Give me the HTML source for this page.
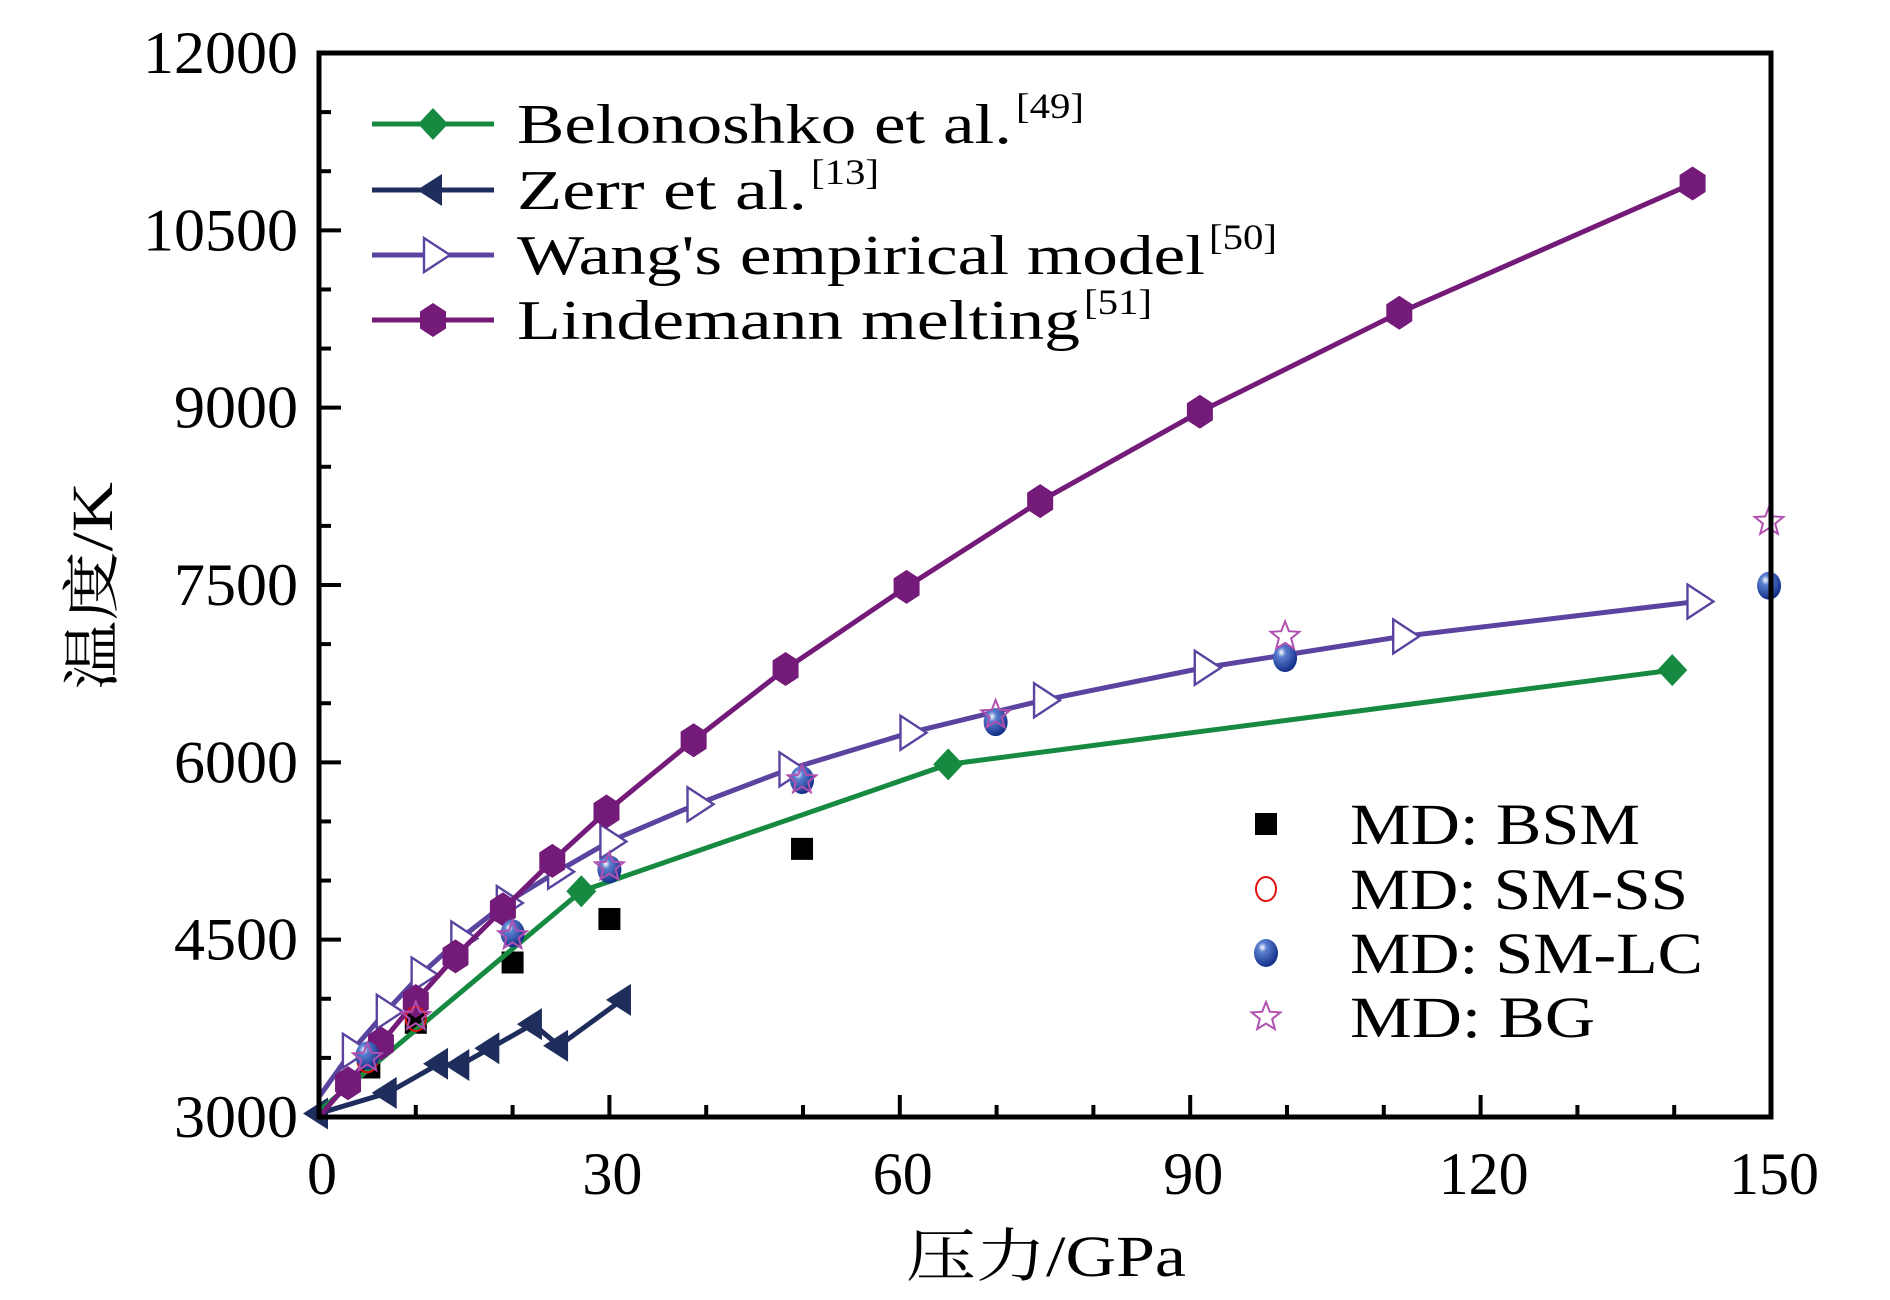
<!DOCTYPE html>
<html><head><meta charset="utf-8">
<style>
html,body{margin:0;padding:0;background:#fff;}
svg{display:block;}
text{font-family:"Liberation Serif","Noto Serif CJK SC",serif;fill:#000;}
</style></head>
<body>
<svg id="chart" width="1890" height="1300" viewBox="0 0 1890 1300" xmlns="http://www.w3.org/2000/svg">
<g id="marks"></g>
<g id="axes"></g>
<g id="legend"></g>
</svg>
<script>
const xTicks = [0, 30, 60, 90, 120, 150];
const yTicks = [3000, 4500, 6000, 7500, 9000, 10500, 12000];
const lindX = [0, 3.0, 6.4, 10.0, 14.1, 19.0, 24.1, 29.7, 38.7, 48.2, 60.7, 74.5, 91.0, 111.6, 141.9];
const lindY = [3000, 3286, 3623, 3981, 4359, 4757, 5166, 5584, 6187, 6790, 7484, 8209, 8965, 9803, 10896];
const wangX = [0, 3.4, 6.9, 10.5, 14.6, 19.3, 24.6, 30.0, 39.0, 48.5, 61.0, 74.8, 91.4, 111.9, 142.3];
const wangY = [3170, 3560, 3890, 4205, 4510, 4810, 5075, 5330, 5645, 5940, 6250, 6525, 6800, 7065, 7360];
const belX = [0, 27.1, 65.0, 139.8];
const belY = [3050, 4910, 5983, 6780];
const zerrX = [0, 7.1, 12.4, 14.6, 17.7, 22.1, 24.8, 31.3];
const zerrY = [3030, 3204, 3450, 3440, 3582, 3786, 3603, 3991];
const bsmX = [5.2, 10, 20, 30, 49.9];
const bsmY = [3419, 3797, 4307, 4675, 5268];
const ssX = [5, 10, 20, 30, 49.9, 69.9, 99.8, 149.8];
const ssY = [3480, 3830, 4553, 5094, 5850, 6340, 6882, 7494];
const lcX = [5, 20, 30, 49.9, 69.9, 99.8, 149.8];
const lcY = [3520, 4553, 5094, 5850, 6340, 6882, 7494];
const bgX = [5, 10, 20, 30, 49.9, 69.9, 99.8, 149.8];
const bgY = [3500, 3848, 4532, 5114, 5850, 6400, 7065, 8036];

const L = 319, R = 1771, T = 53, B = 1117;
const sx = v => L + (v - 0) / 150 * (R - L);
const sy = v => B - (v - 3000) / 9000 * (B - T);
const NS = "http://www.w3.org/2000/svg";
function mk(tag, attrs, parent) {
  const e = document.createElementNS(NS, tag);
  for (const k in attrs) e.setAttribute(k, attrs[k]);
  parent.appendChild(e);
  return e;
}
const marks = document.getElementById('marks');
const axes = document.getElementById('axes');
const legend = document.getElementById('legend');

const defs = mk('defs', {}, document.getElementById('chart'));
const grad = mk('radialGradient', {id: 'ball', cx: '0.35', cy: '0.3', r: '0.7'}, defs);
mk('stop', {offset: '0', 'stop-color': '#ffffff'}, grad);
mk('stop', {offset: '0.25', 'stop-color': '#5b7fd0'}, grad);
mk('stop', {offset: '1', 'stop-color': '#14308a'}, grad);

function marker(type, cx, cy, color, parent) {
  let e;
  if (type === 'diamond') {
    e = mk('polygon', {points: `${cx},${cy-16} ${cx+15},${cy} ${cx},${cy+16} ${cx-15},${cy}`, fill: color}, parent);
  } else if (type === 'left') {
    e = mk('polygon', {points: `${cx-16},${cy} ${cx+9},${cy-16} ${cx+9},${cy+16}`, fill: color}, parent);
  } else if (type === 'right') {
    e = mk('polygon', {points: `${cx-9},${cy-17} ${cx+17},${cy} ${cx-9},${cy+17}`, fill: '#fff', stroke: color, 'stroke-width': 2.4}, parent);
  } else if (type === 'hex') {
    e = mk('polygon', {points: `${cx},${cy-17} ${cx+13},${cy-8.5} ${cx+13},${cy+8.5} ${cx},${cy+17} ${cx-13},${cy+8.5} ${cx-13},${cy-8.5}`, fill: color}, parent);
  } else if (type === 'square') {
    e = mk('rect', {x: cx-11, y: cy-11, width: 22, height: 22, fill: '#000'}, parent);
  } else if (type === 'circle') {
    e = mk('ellipse', {cx: cx, cy: cy, rx: 10, ry: 12, fill: 'none', stroke: '#e01010', 'stroke-width': 2}, parent);
  } else if (type === 'ball') {
    e = mk('ellipse', {cx: cx, cy: cy, rx: 12, ry: 14, fill: 'url(#ball)'}, parent);
  } else if (type === 'star') {
    let p = [];
    for (let i = 0; i < 10; i++) {
      const a = -Math.PI / 2 + i * Math.PI / 5, r = i % 2 ? 6.5 : 15;
      p.push((cx + r * Math.cos(a)).toFixed(1) + ',' + (cy + r * Math.sin(a)).toFixed(1));
    }
    e = mk('polygon', {points: p.join(' '), fill: 'none', stroke: color, 'stroke-width': 2}, parent);
  }
  return e;
}

function series(name, xs, ys, color, type) {
  const g = mk('g', {}, marks);
  
  
  const pl = mk('polyline', {points: xs.map((x, i) => sx(x) + ',' + sy(ys[i])).join(' '), fill: 'none', stroke: color, 'stroke-width': 5, 'stroke-linejoin': 'round'}, g);
  
  
  xs.forEach((x, i) => {
    if (i === 0 && type !== 'left') return;
    const m = marker(type, sx(x), sy(ys[i]), color, g);
    
    
  });
}
function scatter(name, xs, ys, type, color) {
  const g = mk('g', {}, marks);
  
  
  xs.forEach((x, i) => {
    const m = marker(type, sx(x), sy(ys[i]), color, g);
    
    
  });
}
const cBel = '#178a42', cZerr = '#1f2d5c', cWang = '#5a44a0', cLind = '#741a78', cStar = '#b050b0';
scatter('md-bsm', bsmX, bsmY, 'square', '#000');
series('zerr', zerrX, zerrY, cZerr, 'left');
series('belonoshko', belX, belY, cBel, 'diamond');
series('wang', wangX, wangY, cWang, 'right');
series('lindemann', lindX, lindY, cLind, 'hex');
scatter('md-sm-ss', ssX, ssY, 'circle', '#e01010');
scatter('md-sm-lc', lcX, lcY, 'ball', '#1f3d9a');
scatter('md-bg', bgX, bgY, 'star', cStar);

const frame = mk('rect', {x: L, y: T, width: R - L, height: B - T, fill: 'none', stroke: '#000', 'stroke-width': 5}, axes);


for (let v = 3000; v <= 12000; v += 500) {
  const major = (v - 3000) % 1500 === 0;
  const t = mk('line', {x1: L, x2: L + (major ? 22 : 12), y1: sy(v), y2: sy(v), stroke: '#000', 'stroke-width': 4}, axes);
  
  
}
for (let v = 0; v <= 150; v += 10) {
  const major = v % 30 === 0;
  const t = mk('line', {x1: sx(v), x2: sx(v), y1: B, y2: B - (major ? 22 : 12), stroke: '#000', 'stroke-width': 4}, axes);
  
  
}
yTicks.forEach(v => {
  const t = mk('text', {x: 298, y: sy(v) + 20, 'text-anchor': 'end', 'font-size': 60, textLength: 31 * String(v).length, lengthAdjust: 'spacingAndGlyphs'}, axes);
  t.textContent = v;
  
  
});
xTicks.forEach(v => {
  const t = mk('text', {x: sx(v) + 3, y: 1194, 'text-anchor': 'middle', 'font-size': 60, textLength: 30 * String(v).length, lengthAdjust: 'spacingAndGlyphs'}, axes);
  t.textContent = v;
  
  
});
const xt = mk('text', {x: 1046, y: 1276, 'text-anchor': 'middle', 'font-size': 58, textLength: 280, lengthAdjust: 'spacingAndGlyphs'}, axes);
xt.textContent = '压力/GPa';


const yt = mk('text', {x: 0, y: 0, 'text-anchor': 'middle', 'font-size': 58, textLength: 208, lengthAdjust: 'spacingAndGlyphs', transform: 'translate(112,586) rotate(-90)'}, axes);
yt.textContent = '温度/K';



const lineLeg = [
  ['Belonoshko et al.', '[49]', cBel, 'diamond', 124, 495],
  ['Zerr et al.', '[13]', cZerr, 'left', 190, 290],
  ["Wang's empirical model", '[50]', cWang, 'right', 255, 688],
  ['Lindemann melting', '[51]', cLind, 'hex', 320, 563]
];
lineLeg.forEach(r => {
  const g = mk('g', {}, legend);
  
  
  mk('line', {x1: 372, x2: 494, y1: r[4], y2: r[4], stroke: r[2], 'stroke-width': 5}, g);
  marker(r[3], 433, r[4], r[2], g);
  const t = mk('text', {x: 517, y: r[4] + 19, 'font-size': 56, textLength: r[5], lengthAdjust: 'spacingAndGlyphs'}, g);
  t.textContent = r[0];
  const s = mk('text', {x: 517 + r[5] + 4, y: r[4] - 6, 'font-size': 36, textLength: 68, lengthAdjust: 'spacingAndGlyphs'}, g);
  s.textContent = r[1];
});
const ptLeg = [
  ['MD: BSM', 'square', '#000', 824, 290],
  ['MD: SM-SS', 'circle', '#e01010', 889, 338],
  ['MD: SM-LC', 'ball', '#1f3d9a', 953, 353],
  ['MD: BG', 'star', cStar, 1017, 245]
];
ptLeg.forEach(r => {
  const g = mk('g', {}, legend);
  
  
  marker(r[1], 1266, r[3], r[2], g);
  const t = mk('text', {x: 1350, y: r[3] + 20, 'font-size': 58, textLength: r[4], lengthAdjust: 'spacingAndGlyphs'}, g);
  t.textContent = r[0];
});
</script>
</body></html>
